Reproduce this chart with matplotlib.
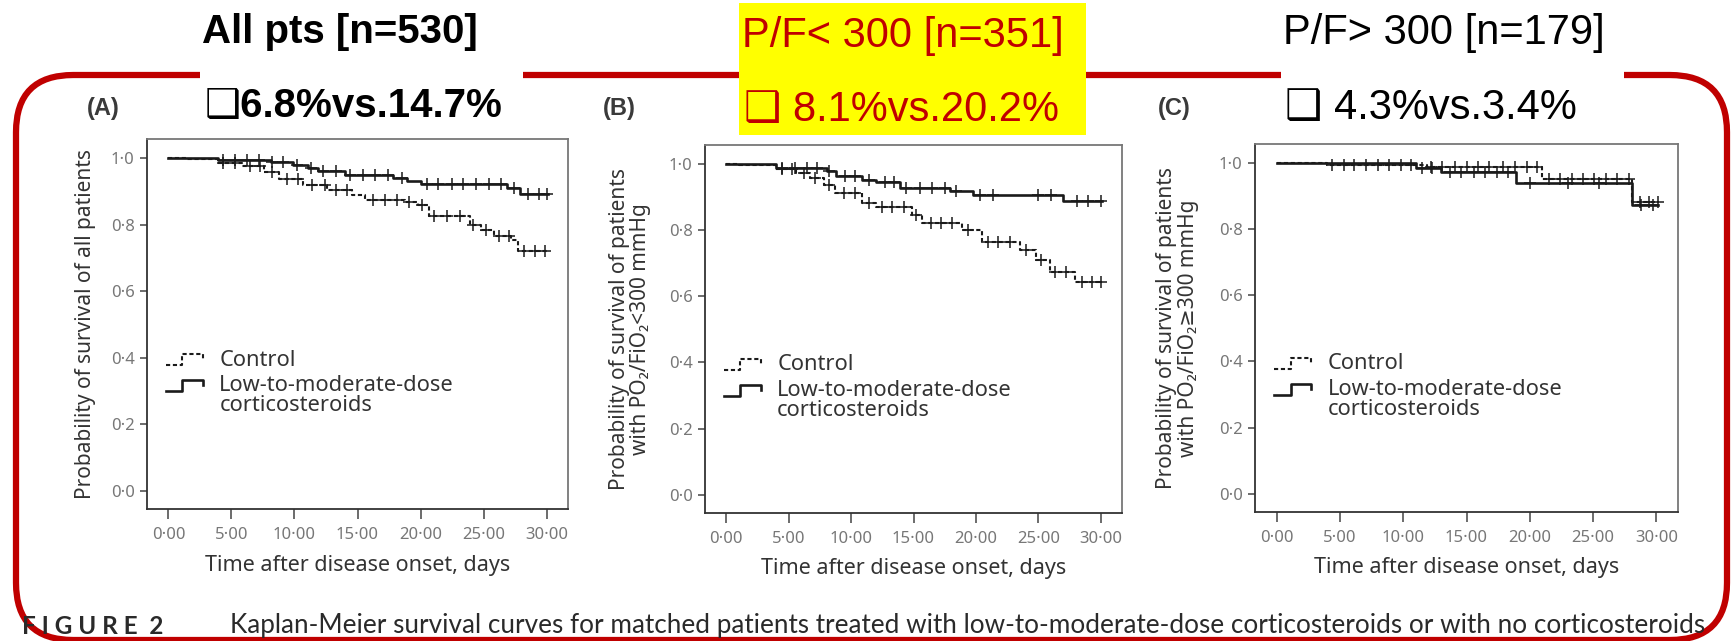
import numpy as np
import matplotlib
matplotlib.use("Agg")
import matplotlib.pyplot as plt
from matplotlib.patches import FancyBboxPatch, Rectangle
from matplotlib.lines import Line2D
from matplotlib.legend_handler import HandlerBase

W, H = 1734, 641

# axis ticks
day_ticks = [0, 5, 10, 15, 20, 25, 30]
day_labels = ["0·00", "5·00", "10·00", "15·00", "20·00", "25·00", "30·00"]
surv_ticks = [0.0, 0.2, 0.4, 0.6, 0.8, 1.0]
surv_labels = ["0·0", "0·2", "0·4", "0·6", "0·8", "1·0"]
group_names = ["Control", "Low-to-moderate-dose\ncorticosteroids"]

# (A) all patients - control
a_ctrl_t = [0, 1.5, 3.9, 5.8, 7.6, 8.8, 10.7, 12.6, 14.6, 15.6, 18.8, 19.8, 20.7, 23.9, 24.8, 25.8, 27.2, 27.7]
a_ctrl_s = [1.0, 0.997, 0.985, 0.975, 0.958, 0.936, 0.919, 0.904, 0.888, 0.874, 0.867, 0.858, 0.826, 0.80, 0.784, 0.764, 0.752, 0.72]
a_ctrl_cens = [4.3, 5.3, 6.5, 7.3, 8.2, 9.4, 10.3, 11.4, 12.4, 13.3, 14.2, 16.2, 17.2, 18.1, 19.1, 20.1,
               21.1, 22.1, 23.1, 24.2, 25.2, 26.2, 27.0, 28.2, 29.1, 29.9]
# (A) all patients - corticosteroids
a_cs_t = [0, 3.9, 8.1, 9.9, 11.1, 11.9, 14.0, 17.8, 18.9, 20.0, 26.9, 27.9]
a_cs_s = [1.0, 0.994, 0.987, 0.979, 0.969, 0.961, 0.949, 0.939, 0.932, 0.922, 0.909, 0.891]
a_cs_cens = [4.3, 5.3, 6.2, 7.2, 8.2, 9.1, 10.2, 11.3, 12.3, 13.3, 14.4, 15.4, 16.4, 17.4, 18.5, 20.5,
             21.4, 22.5, 23.4, 24.4, 25.4, 26.4, 27.4, 28.5, 29.4, 30.0]

# (B) P/F < 300 - control
b_ctrl_t = [0, 1.0, 4.0, 5.6, 6.7, 7.8, 8.7, 10.9, 12.0, 14.9, 15.7, 18.9, 20.5, 23.5, 24.8, 25.9, 27.9]
b_ctrl_s = [1.0, 0.996, 0.985, 0.973, 0.957, 0.937, 0.912, 0.883, 0.87, 0.846, 0.82, 0.80, 0.764, 0.739, 0.709, 0.673, 0.643]
b_ctrl_cens = [4.5, 5.3, 6.2, 7.1, 8.2, 9.4, 10.3, 11.4, 12.5, 13.3, 14.2, 15.2, 16.4, 17.2, 18.1, 19.4,
               21.0, 21.8, 22.7, 24.0, 25.2, 26.3, 27.2, 28.5, 29.3, 30.0]
# (B) P/F < 300 - corticosteroids
b_cs_t = [0, 4.0, 8.1, 8.8, 10.9, 12.0, 13.9, 17.9, 19.8, 27.0]
b_cs_s = [1.0, 0.988, 0.978, 0.962, 0.952, 0.944, 0.927, 0.919, 0.907, 0.888]
b_cs_cens = [4.5, 5.5, 6.5, 7.3, 8.2, 9.5, 10.3, 11.4, 12.7, 13.4, 14.4, 15.5, 16.5, 17.5, 18.4, 20.3,
             21.4, 25.0, 26.0, 28.1, 29.0, 30.0]

# (C) P/F > 300 - control
c_ctrl_t = [0, 4.0, 11.9, 21.0, 28.06]
c_ctrl_s = [1.0, 0.993, 0.988, 0.95, 0.882]
c_ctrl_cens = [4.4, 5.3, 6.1, 7.1, 8.0, 8.9, 9.8, 10.6, 12.2, 13.1, 14.1, 15.0, 15.9, 16.8, 17.9, 18.8,
               19.8, 20.6, 21.5, 22.4, 23.3, 24.2, 25.1, 26.0, 26.9, 27.8, 28.7, 29.4, 30.1]
# (C) P/F > 300 - corticosteroids
c_cs_t = [0, 11.0, 12.95, 18.9, 28.06]
c_cs_s = [1.0, 0.985, 0.973, 0.94, 0.874]
c_cs_cens = [11.5, 12.3, 13.7, 14.6, 15.6, 16.5, 17.4, 18.3, 20.0, 23.0, 25.5, 28.8, 29.7]

end_day = 30.1

panel_tags = ["(A)", "(B)", "(C)"]
ylabels = ["Probability of survival of all patients",
           "Probability of survival of patients\nwith PO\u2082/FiO\u2082<300 mmHg",
           "Probability of survival of patients\nwith PO\u2082/FiO\u2082\u2265300 mmHg"]
head_titles = ["All pts [n=530]", "P/F< 300 [n=351]", "P/F> 300 [n=179]"]
head_rates = ["\u27516.8%vs.14.7%", "\u2751 8.1%vs.20.2%", "\u2751 4.3%vs.3.4%"]
caption_tag = "F I G U R E  2"
caption = ("Kaplan-Meier survival curves for matched patients treated with "
           "low-to-moderate-dose corticosteroids or with no corticosteroids")

panels = [
    (a_ctrl_t, a_ctrl_s, a_ctrl_cens, a_cs_t, a_cs_s, a_cs_cens),
    (b_ctrl_t, b_ctrl_s, b_ctrl_cens, b_cs_t, b_cs_s, b_cs_cens),
    (c_ctrl_t, c_ctrl_s, c_ctrl_cens, c_cs_t, c_cs_s, c_cs_cens),
]

CHART_FONT = ["Noto Sans", "DejaVu Sans"]
HEAD_FONT = ["Liberation Sans", "DejaVu Sans"]
CAP_FONT = ["Lato", "DejaVu Sans"]
RED = "#c00000"


def fx(px):
    return px / W


def fy(py):
    return 1 - py / H


def box(left, top, right, bottom):
    return [fx(left), fy(bottom), (right - left) / W, (bottom - top) / H]


class StepHandler(HandlerBase):
    # draws the little step glyph used in the original legend
    def __init__(self, lift=0.0):
        super().__init__()
        self.lift = lift

    def create_artists(self, legend, orig_handle, xdescent, ydescent, width, height, fontsize, trans):
        xs = np.array([0.0, 0.42, 0.42, 0.95, 0.95]) * width - xdescent
        ys = np.array([0.05, 0.05, 0.75, 0.75, 0.4]) * height - ydescent + self.lift * fontsize
        ln = Line2D(xs, ys)
        ln.update_from(orig_handle)
        ln.set_transform(trans)
        return [ln]


def km_at(times, surv, t):
    idx = np.searchsorted(times, t, side="right") - 1
    return np.asarray(surv)[idx]


fig = plt.figure(figsize=(W / 100, H / 100), dpi=100)
fig.patch.set_facecolor("white")

axes_px = [(147, 139, 568, 509), (705, 145, 1122, 513), (1255, 144, 1678, 512)]
ylabel_x = [-0.147, -0.18, -0.184]
tag_px = [(103, 108), (619, 108), (1174, 108)]

for i, (ct, cs, cc, tt, ts, tc) in enumerate(panels):
    ax = fig.add_axes(box(*axes_px[i]))
    ax.set_xlim(-1.7, 31.7)
    ax.set_ylim(-0.055, 1.057)

    ctrl_line, = ax.step(list(ct) + [end_day], list(cs) + [cs[-1]], where="post",
                         color="#1a1a1a", lw=1.5, ls=(0, (2.0, 1.3)))
    cs_line, = ax.step(list(tt) + [end_day], list(ts) + [ts[-1]], where="post",
                       color="#1a1a1a", lw=1.9, ls="-")
    ax.plot(cc, km_at(ct, cs, cc), ls="none", marker="+", ms=8, mew=1.1, color="#1a1a1a")
    ax.plot(tc, km_at(tt, ts, tc), ls="none", marker="+", ms=8, mew=1.1, color="#1a1a1a")

    ax.set_xticks(day_ticks, labels=day_labels)
    ax.set_yticks(surv_ticks, labels=surv_labels)
    ax.tick_params(axis="x", length=7, width=1.1, color="#444", pad=6, labelsize=12, labelcolor="#777")
    ax.tick_params(axis="y", length=5, width=1.1, color="#444", pad=4, labelsize=12, labelcolor="#777")
    for lab in ax.get_xticklabels() + ax.get_yticklabels():
        lab.set_family(CHART_FONT)
    for side, sp in ax.spines.items():
        sp.set_linewidth(1.3)
        sp.set_color("#333" if side in ("left", "bottom") else "#777")

    ax.set_xlabel("Time after disease onset, days", fontsize=15.5, color="#333", family=CHART_FONT)
    ax.xaxis.set_label_coords(0.5, -0.152)
    ax.xaxis.label.set_va("center")
    ax.set_ylabel(ylabels[i], fontsize=15, color="#333", family=CHART_FONT, linespacing=1.05)
    ax.yaxis.set_label_coords(ylabel_x[i], 0.5)
    ax.yaxis.label.set_va("center")

    leg = ax.legend([ctrl_line, cs_line], group_names, loc="upper left", bbox_to_anchor=(0.045, 0.431),
                    frameon=False, borderpad=0, borderaxespad=0, handlelength=1.8, handletextpad=0.65,
                    labelspacing=0.2,
                    handler_map={ctrl_line: StepHandler(0.0), cs_line: StepHandler(0.55)},
                    prop={"family": CHART_FONT, "size": 15.7})
    for txt in leg.get_texts():
        txt.set_color("#333")
        txt.set_linespacing(0.95)

    fig.text(fx(tag_px[i][0]), fy(tag_px[i][1]), panel_tags[i], ha="center", va="center",
             fontsize=17, fontweight="bold", color="#3a3a3a", family=HEAD_FONT)

# red rounded frame around the three panels
frame = FancyBboxPatch((fx(16), fy(640)), fx(1727) - fx(16), fy(75) - fy(640),
                       boxstyle="round,pad=0,rounding_size=0.033", mutation_aspect=W / H,
                       transform=fig.transFigure, facecolor="none", edgecolor=RED, lw=4.5, zorder=1)
fig.add_artist(frame)

# header boxes that sit on the frame
fig.add_artist(Rectangle((fx(200), fy(137)), fx(523) - fx(200), fy(0) - fy(137),
                         transform=fig.transFigure, facecolor="white", edgecolor="none", zorder=2))
fig.add_artist(Rectangle((fx(739), fy(135)), fx(1086) - fx(739), fy(3) - fy(135),
                         transform=fig.transFigure, facecolor="#ffff00", edgecolor="none", zorder=2))
fig.add_artist(Rectangle((fx(1281), fy(137)), fx(1624) - fx(1281), fy(0) - fy(137),
                         transform=fig.transFigure, facecolor="white", edgecolor="none", zorder=2))

head_pos = [((202, 32), (205, 106)), ((742, 36), (744, 110)), ((1283, 33), (1285, 108))]
head_color = ["black", RED, "black"]
head_weight = ["bold", "normal", "normal"]
head_size = [29, 30, 30]
for i in range(3):
    (tx, ty), (rx, ry) = head_pos[i]
    fig.text(fx(tx), fy(ty), head_titles[i], ha="left", va="center", fontsize=head_size[i],
             fontweight=head_weight[i], color=head_color[i], family=HEAD_FONT, zorder=3)
    fig.text(fx(rx), fy(ry), head_rates[i], ha="left", va="center", fontsize=head_size[i],
             fontweight=head_weight[i], color=head_color[i], family=HEAD_FONT, zorder=3)

# figure caption
fig.text(fx(22), fy(626), caption_tag, ha="left", va="center", fontsize=17.5, fontweight="bold",
         color="#2a2a2a", family=CAP_FONT)
fig.text(fx(230), fy(626), caption, ha="left", va="center", fontsize=18.8,
         color="#2a2a2a", family=CAP_FONT)

fig.savefig("out.png", dpi=100)
